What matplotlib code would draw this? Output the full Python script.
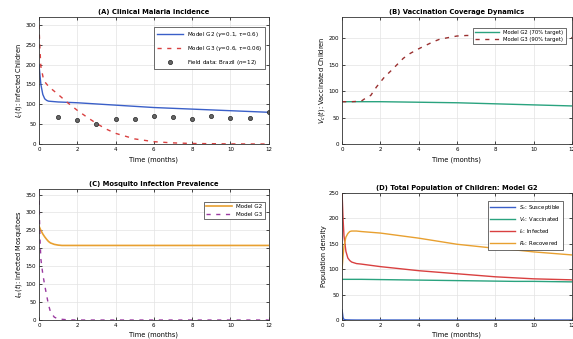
import matplotlib
matplotlib.use("Agg")
import matplotlib.pyplot as plt
import numpy as np

# ---------------- data ----------------
# Panel A: clinical malaria incidence
tA_g2 = [0, 0.05, 0.1, 0.2, 0.3, 0.4, 0.5, 0.75, 1, 2, 3, 4, 5, 6, 7, 8, 9, 10, 11, 12]
A_g2 = [200, 175, 150, 125, 114, 110, 108, 107, 106, 104, 101, 98, 95, 92, 90, 88, 86, 84, 82, 80]
tA_g3 = [0, 0.05, 0.1, 0.25, 0.5, 0.75, 1, 1.5, 2, 2.5, 3, 3.5, 4, 5, 6, 7, 8, 9, 10, 11, 12]
A_g3 = [300, 240, 195, 160, 145, 135, 125, 104, 85, 68, 52, 38, 27, 13, 6, 3, 1.5, 1, 0.5, 0.3, 0.2]
tA_field = [1, 2, 3, 4, 5, 6, 7, 8, 9, 10, 11, 12]
A_field = [67, 60, 51, 62, 62, 71, 69, 63, 71, 65, 65, 81]

# Panel B: vaccination coverage
tB_g2 = [0, 1, 2, 3, 4, 5, 6, 7, 8, 9, 10, 11, 12]
B_g2 = [80, 80, 80, 79.5, 79, 78.5, 78, 77, 76, 75, 74, 73, 72]
tB_g3 = [0, 0.5, 1, 1.2, 1.5, 1.8, 2.2, 2.6, 2.9, 3.2, 3.55, 3.95, 4.35, 4.75, 5.1, 5.55, 6, 6.5, 7, 8, 9, 10, 11, 12]
B_g3 = [80, 80, 81, 86, 92, 108, 126, 140, 151, 162, 171, 179, 186, 193, 198, 201, 204, 205, 205, 205, 204, 203, 202, 201]

# Panel C: mosquito infection prevalence
tC_g2 = [0, 0.1, 0.2, 0.3, 0.4, 0.5, 0.6, 0.8, 1.0, 1.2, 1.5, 2, 4, 6, 8, 10, 12]
C_g2 = [262, 250, 240, 232, 225, 219, 215, 211, 209, 208, 208, 208, 208, 208, 208, 208, 208]
tC_g3 = [0, 0.02, 0.05, 0.1, 0.2, 0.3, 0.4, 0.5, 0.6, 0.8, 1.0, 1.5, 2, 4, 6, 8, 10, 12]
C_g3 = [360, 300, 230, 170, 128, 97, 69, 42, 23, 8, 3, 0.5, 0, 0, 0, 0, 0, 0]

# Panel D: total population of children (Model G2)
tD = [0, 0.05, 0.1, 0.2, 0.3, 0.4, 0.5, 0.75, 1, 2, 3, 4, 5, 6, 7, 8, 9, 10, 11, 12]
D_S = [20, 5, 1, 0.5, 0.3, 0.2, 0.1, 0, 0, 0, 0, 0, 0, 0, 0, 0, 0, 0, 0, 0]
D_V = [80, 80, 80, 80, 80, 80, 80, 80, 80, 79.5, 79, 78.5, 78, 77.5, 77, 76.5, 76, 76, 75.5, 75]
D_I = [250, 200, 165, 135, 122, 117, 114, 111, 110, 105, 101, 97, 94, 91, 88, 85, 83, 81, 80, 79]
D_R = [100, 125, 145, 163, 170, 174, 175, 175, 174, 171, 166, 161, 155, 149, 145, 141, 138, 134, 131, 128]

xticks = [0, 2, 4, 6, 8, 10, 12]

# ---------------- figure ----------------
plt.rcParams['font.family'] = ['DejaVu Sans']
fig = plt.figure(figsize=(5.73, 3.39), dpi=100)

axA = fig.add_axes([0.068, 0.575, 0.401, 0.375])
axB = fig.add_axes([0.597, 0.575, 0.401, 0.375])
axC = fig.add_axes([0.068, 0.056, 0.401, 0.386])
axD = fig.add_axes([0.597, 0.056, 0.401, 0.375])

def style(ax, title, ylabel, ylim, yticks):
    ax.set_xlim(0, 12)
    ax.set_ylim(*ylim)
    ax.set_xticks(xticks)
    ax.set_yticks(yticks)
    ax.grid(True, color='#e3e3e3', linewidth=0.5)
    ax.set_axisbelow(True)
    ax.tick_params(direction='in', length=2, width=0.5, labelsize=4, top=True, right=True, pad=2)
    for s in ax.spines.values():
        s.set_linewidth(0.6)
        s.set_color('#333333')
    ax.set_title(title, fontsize=4.9, fontweight='bold', pad=2)
    ax.set_xlabel('Time (months)', fontsize=4.8, labelpad=3)
    ax.set_ylabel(ylabel, fontsize=4.8, labelpad=1.5)

def legend(ax, anchor, fs, spacing):
    leg = ax.legend(loc='upper right', bbox_to_anchor=anchor, fontsize=fs, frameon=True, fancybox=False,
                    edgecolor='#333333', framealpha=1, handlelength=4.5, borderpad=0.45,
                    labelspacing=spacing)
    leg.get_frame().set_linewidth(0.5)
    return leg

# Panel A
axA.plot(tA_g2, A_g2, color='#3a5fc8', lw=1.0, label='Model G2 ($\\gamma$=0.1, $\\tau$=0.6)')
axA.plot(tA_g3, A_g3, color='#d94040', lw=1.0, ls=(0, (3, 4)), label='Model G3 ($\\gamma$=0.6, $\\tau$=0.06)')
axA.plot(tA_field, A_field, ls='none', marker='o', ms=3, mfc='#666666', mec='#222222', mew=0.5,
         label='Field data: Brazil ($n$=12)')
style(axA, '(A) Clinical Malaria Incidence', '$I_c(t)$: Infected Children', (0, 320), [0, 50, 100, 150, 200, 250, 300])
legend(axA, (0.997, 0.94), 4.1, 0.85)

# Panel B
axB.plot(tB_g2, B_g2, color='#2aa37f', lw=1.0, label='Model G2 (70% target)')
axB.plot(tB_g3, B_g3, color='#9a3030', lw=1.0, ls=(0, (3, 4)), label='Model G3 (90% target)')
style(axB, '(B) Vaccination Coverage Dynamics', '$V_c(t)$: Vaccinated Children', (0, 240), [0, 50, 100, 150, 200])
legend(axB, (0.985, 0.935), 3.8, 0.35)

# Panel C
axC.plot(tC_g2, C_g2, color='#e8a030', lw=1.2, label='Model G2')
axC.plot(tC_g3, C_g3, color='#9a3aa0', lw=1.0, ls=(0, (3, 4)), label='Model G3')
style(axC, '(C) Mosquito Infection Prevalence', '$I_m(t)$: Infected Mosquitoes', (0, 365),
      [0, 50, 100, 150, 200, 250, 300, 350])
legend(axC, (0.997, 0.925), 4.1, 0.4)

# Panel D
axD.plot(tD, D_S, color='#3a5fc8', lw=1.0, label='$S_c$: Susceptible')
axD.plot(tD, D_V, color='#2aa37f', lw=1.0, label='$V_c$: Vaccinated')
axD.plot(tD, D_I, color='#d94040', lw=1.0, label='$I_c$: Infected')
axD.plot(tD, D_R, color='#e8a030', lw=1.0, label='$R_c$: Recovered')
style(axD, '(D) Total Population of Children: Model G2', 'Population density', (0, 250),
      [0, 50, 100, 150, 200, 250])
legend(axD, (0.975, 0.96), 3.9, 0.55)

fig.savefig('out.png', dpi=100)
